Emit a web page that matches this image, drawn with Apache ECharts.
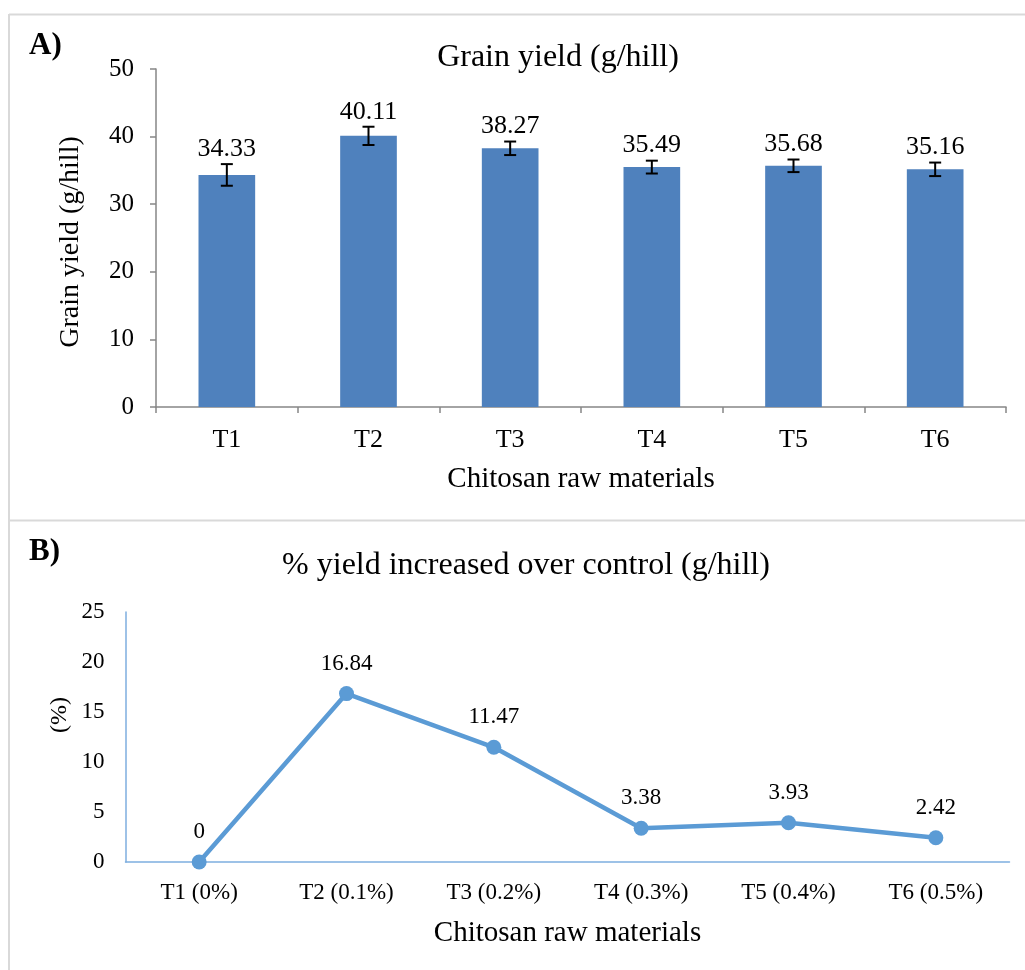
<!DOCTYPE html>
<html>
<head>
<meta charset="utf-8">
<title>Grain yield and yield increase over control</title>
<script src="https://cdn.jsdelivr.net/npm/echarts@6/dist/echarts.min.js"></script>
<style>
  html, body { margin: 0; padding: 0; background: #ffffff; }
  #chart { width: 1025px; height: 970px; }
</style>
</head>
<body>
<div id="chart"></div>
<script>
// Panel A: grain yield per hill with error bars
const treatments = ['T1', 'T2', 'T3', 'T4', 'T5', 'T6'];
const grainYield = [34.33, 40.11, 38.27, 35.49, 35.68, 35.16];
const yieldError = [1.6, 1.35, 1.0, 0.95, 0.93, 1.0];

// Panel B: percentage yield increase over the control
const doseLabels = ['T1 (0%)', 'T2 (0.1%)', 'T3 (0.2%)', 'T4 (0.3%)', 'T5 (0.4%)', 'T6 (0.5%)'];
const yieldIncrease = [0, 16.84, 11.47, 3.38, 3.93, 2.42];

const serif = '"Liberation Serif", "Times New Roman", serif';
const barColor = '#4f81bd';
const lineColor = '#5b9bd5';
const axisGray = '#868686';
const axisBlue = '#7eaedf';
const frameGray = '#d9d9d9';

const chart = echarts.init(document.getElementById('chart'), null, { renderer: 'canvas' });

const option = {
  backgroundColor: '#ffffff',
  animation: false,
  textStyle: { fontFamily: serif, color: '#000' },
  title: [
    {
      text: 'Grain yield (g/hill)',
      left: 553, top: 37, textAlign: 'center',
      textStyle: { fontFamily: serif, fontSize: 32, fontWeight: 'normal', color: '#000' }
    },
    {
      text: '% yield increased over control (g/hill)',
      left: 521, top: 545, textAlign: 'center',
      textStyle: { fontFamily: serif, fontSize: 32, fontWeight: 'normal', color: '#000' }
    }
  ],
  graphic: [
    // panel frame lines
    { type: 'line', shape: { x1: 9, y1: 14.5, x2: 1025, y2: 14.5 }, style: { stroke: frameGray, lineWidth: 2 } },
    { type: 'line', shape: { x1: 9, y1: 14, x2: 9, y2: 970 }, style: { stroke: frameGray, lineWidth: 2 } },
    { type: 'line', shape: { x1: 9, y1: 520.5, x2: 1025, y2: 520.5 }, style: { stroke: frameGray, lineWidth: 2 } },
    // panel letters
    { type: 'text', x: 29, y: 46, style: { text: 'A)', font: 'bold 31px ' + serif, fill: '#000', textVerticalAlign: 'middle' } },
    { type: 'text', x: 29, y: 552, style: { text: 'B)', font: 'bold 31px ' + serif, fill: '#000', textVerticalAlign: 'middle' } },
    // y-axis title of panel B
    {
      type: 'text', x: 60, y: 715, rotation: Math.PI / 2,
      style: { text: '(%)', font: '24px ' + serif, fill: '#000', textAlign: 'center', textVerticalAlign: 'middle' }
    }
  ],
  grid: [
    { left: 156, top: 69, width: 850, height: 338, containLabel: false },
    { left: 125.5, top: 612, width: 884, height: 250, containLabel: false }
  ],
  xAxis: [
    {
      type: 'category', gridIndex: 0, data: treatments,
      axisLine: { lineStyle: { color: axisGray, width: 1.5 } },
      axisTick: { show: true, length: 6, lineStyle: { color: axisGray, width: 1.5 } },
      axisLabel: { fontFamily: serif, fontSize: 26, color: '#000', margin: 20 },
      name: 'Chitosan raw materials', nameLocation: 'middle', nameGap: 58,
      nameTextStyle: { fontFamily: serif, fontSize: 29, color: '#000' }
    },
    {
      type: 'category', gridIndex: 1, data: doseLabels,
      axisLine: { lineStyle: { color: axisBlue, width: 1.5 } },
      axisTick: { show: false },
      axisLabel: { fontFamily: serif, fontSize: 23, color: '#000', margin: 19 },
      name: 'Chitosan raw materials', nameLocation: 'middle', nameGap: 57,
      nameTextStyle: { fontFamily: serif, fontSize: 29, color: '#000' }
    }
  ],
  yAxis: [
    {
      type: 'value', gridIndex: 0, min: 0, max: 50, interval: 10,
      axisLine: { show: true, lineStyle: { color: axisGray, width: 1.5 } },
      axisTick: { show: true, length: 6, lineStyle: { color: axisGray, width: 1.5 } },
      splitLine: { show: false },
      axisLabel: { fontFamily: serif, fontSize: 25, color: '#000', margin: 22 },
      name: 'Grain yield (g/hill)', nameLocation: 'middle', nameGap: 71, nameRotate: 90,
      nameTextStyle: { fontFamily: serif, fontSize: 28, color: '#000', padding: [0, 8, 0, 0] }
    },
    {
      type: 'value', gridIndex: 1, min: 0, max: 25, interval: 5,
      axisLine: { show: true, lineStyle: { color: axisBlue, width: 1.5 } },
      axisTick: { show: false },
      splitLine: { show: false },
      axisLabel: { fontFamily: serif, fontSize: 23, color: '#000', margin: 21 }
    }
  ],
  series: [
    {
      type: 'bar', xAxisIndex: 0, yAxisIndex: 0,
      data: grainYield,
      barCategoryGap: '60%',
      itemStyle: { color: barColor },
      z: 2
    },
    {
      // error bars with the mean value written above each one
      type: 'custom', xAxisIndex: 0, yAxisIndex: 0,
      data: grainYield.map((v, i) => [i, v, yieldError[i]]),
      z: 5,
      renderItem: function (params, api) {
        const i = api.value(0);
        const v = api.value(1);
        const e = api.value(2);
        const hi = api.coord([i, v + e]);
        const lo = api.coord([i, v - e]);
        const cap = 6;
        const stroke = { stroke: '#000', lineWidth: 2 };
        return {
          type: 'group',
          children: [
            { type: 'line', shape: { x1: hi[0], y1: hi[1], x2: lo[0], y2: lo[1] }, style: stroke },
            { type: 'line', shape: { x1: hi[0] - cap, y1: hi[1], x2: hi[0] + cap, y2: hi[1] }, style: stroke },
            { type: 'line', shape: { x1: lo[0] - cap, y1: lo[1], x2: lo[0] + cap, y2: lo[1] }, style: stroke },
            {
              type: 'text',
              x: hi[0], y: hi[1] - 2,
              style: {
                text: v.toFixed(2),
                font: '26px ' + serif,
                fill: '#000',
                textAlign: 'center',
                textVerticalAlign: 'bottom'
              }
            }
          ]
        };
      }
    },
    {
      type: 'line', xAxisIndex: 1, yAxisIndex: 1,
      data: yieldIncrease,
      symbol: 'circle', symbolSize: 15,
      lineStyle: { color: lineColor, width: 4.5 },
      itemStyle: { color: lineColor },
      label: {
        show: true, position: 'top', distance: 11,
        fontFamily: serif, fontSize: 23, color: '#000',
        formatter: p => String(p.value)
      },
      z: 3
    }
  ]
};

chart.setOption(option);
</script>
</body>
</html>
